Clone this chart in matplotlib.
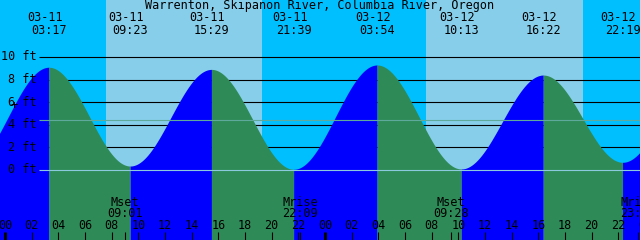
import numpy as np
import matplotlib.pyplot as plt

# tide events, hours after 03-11 00:00 (first and last lie outside the view)
tide_hours = [-2.8, 3.283, 9.383, 15.483, 21.65, 27.9, 34.217, 40.367, 46.317, 52.5]
tide_feet = [0.3, 9.09, 0.35, 8.9, 0.06, 9.29, 0.09, 8.4, 0.68, 9.0]
event_dates = ["03-11", "03-11", "03-11", "03-11", "03-12", "03-12", "03-12", "03-12"]
event_times = ["03:17", "09:23", "15:29", "21:39", "03:54", "10:13", "16:22", "22:19"]

# daylight spans (sunrise, sunset)
day_spans = [(7.575, 19.28), (31.575, 43.35)]

# moon events
moon_hours = [9.017, 22.15, 33.467, 47.483]
moon_names = ["Mset", "Mrise", "Mset", "Mrise"]
moon_times = ["09:01", "22:09", "09:28", "23:29"]

height_ticks = [0, 2, 4, 6, 8, 10]
msl = 4.4
hour_ticks = list(range(0, 49, 2))
hour_labels = ["%02d" % (h % 24) for h in hour_ticks]

title = "Warrenton, Skipanon River, Columbia River, Oregon"

night_c = "#00BFFF"
day_c = "#87CEEB"
rise_c = "#0000FF"
fall_c = "#2E8B57"
font = dict(family="DejaVu Sans Mono", fontsize=8.5, color="black")

x0, x1 = -0.375, 47.625
y0, y1 = -6.195, 15.04

fig = plt.figure(figsize=(6.4, 2.4), dpi=100)
ax = fig.add_axes([0, 0, 1, 1])
ax.set_xlim(x0, x1)
ax.set_ylim(y0, y1)
ax.axis("off")

ax.axvspan(x0, x1, color=night_c, lw=0, zorder=0)
for a, b in day_spans:
    ax.axvspan(a, b, color=day_c, lw=0, zorder=0)

gx = 2.55
ax.hlines(height_ticks[1:], gx, x1, color="black", lw=0.8, zorder=1)

# half-cosine between successive high/low events
for i in range(len(tide_hours) - 1):
    ta, tb = tide_hours[i], tide_hours[i + 1]
    ha, hb = tide_feet[i], tide_feet[i + 1]
    t = np.linspace(ta, tb, 300)
    h = ha + (hb - ha) * (1 - np.cos(np.pi * (t - ta) / (tb - ta))) / 2
    c = rise_c if hb > ha else fall_c
    ax.fill_between(t, h, y0, color=c, lw=0, zorder=2)

ax.hlines([msl], gx, x1, color="#5FA89C", lw=0.8, zorder=3)
ax.hlines([0], gx, x1, color="#8CC8DE", lw=0.8, zorder=3)

for v in height_ticks:
    ax.text(2.4, v, "%d ft" % v, ha="right", va="center", zorder=5, **font)
ax.text(0.65, 5.7, "+", ha="center", va="center", zorder=5, **font)

xt = ax.get_xaxis_transform()
ax.text(0.5, 1 - 5.5 / 240, title, transform=ax.transAxes, ha="center", va="center", **font)
for t, d, s in zip(tide_hours[1:-1], event_dates, event_times):
    ax.text(t - 0.3, 1 - 17.5 / 240, d, transform=xt, ha="center", va="center", **font)
    ax.text(t, 1 - 30 / 240, s, transform=xt, ha="center", va="center", **font)

for t, n, s in zip(moon_hours, moon_names, moon_times):
    ax.text(t, 1 - 202 / 240, n, transform=xt, ha="center", va="center", zorder=5, **font)
    ax.text(t, 1 - 213.5 / 240, s, transform=xt, ha="center", va="center", zorder=5, **font)

for t, lab in zip(hour_ticks, hour_labels):
    ax.text(t, 1 - 225.5 / 240, lab, transform=xt, ha="center", va="center", zorder=5, **font)

tick_top = 8 / 240
for t in hour_ticks:
    lw = 2.2 if t % 24 == 0 else 0.8
    ax.vlines(t, 0, tick_top, transform=xt, color="black", lw=lw, zorder=5)
ax.vlines(moon_hours, 0, tick_top, transform=xt, color="black", lw=0.8, zorder=5)

fig.savefig("out.png", dpi=100)
